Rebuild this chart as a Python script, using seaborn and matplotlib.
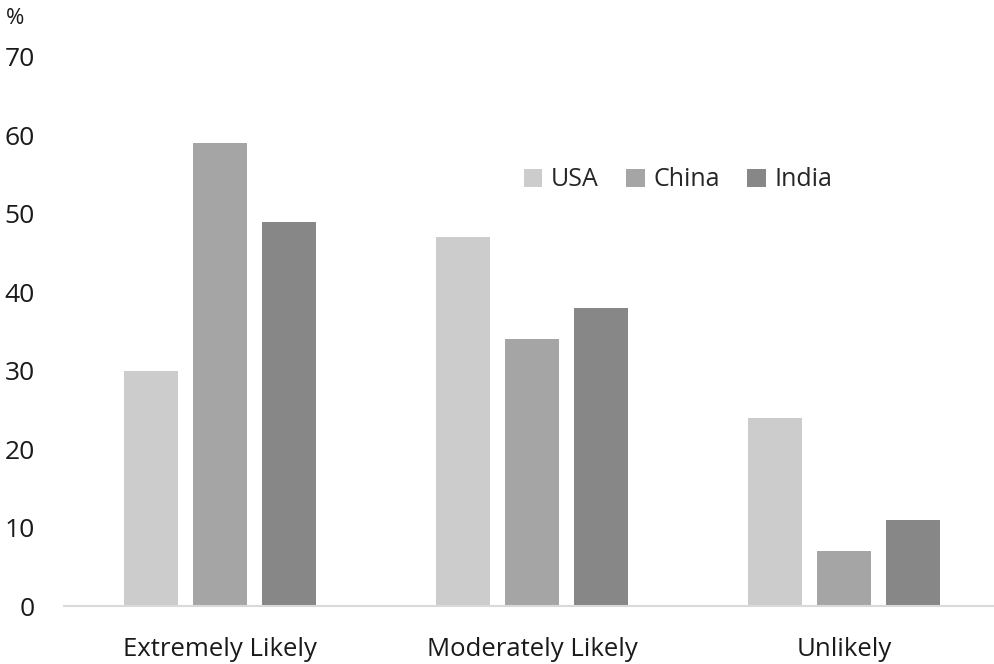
import pandas as pd
import matplotlib.pyplot as plt
import seaborn as sns

categories = ["Extremely Likely", "Moderately Likely", "Unlikely"]
countries = ["USA", "China", "India"]
usa = [30, 47, 24]
china = [59, 34, 7]
india = [49, 38, 11]
yticks = [0, 10, 20, 30, 40, 50, 60, 70]

df = pd.DataFrame({
    "Category": categories * 3,
    "Country": ["USA"] * 3 + ["China"] * 3 + ["India"] * 3,
    "Value": usa + china + india,
})

sns.set_style("white")
plt.rcParams["font.family"] = ["Open Sans", "DejaVu Sans"]

fig = plt.figure(figsize=(9.94, 6.64), dpi=100)
ax = fig.add_axes([64 / 994, 1 - 606 / 664, 936 / 994, 549 / 664])

palette = {"USA": "#CCCCCC", "China": "#A5A5A5", "India": "#878787"}
sns.barplot(data=df, x="Category", y="Value", hue="Country", hue_order=countries,
            order=categories, palette=palette, width=0.663, gap=0.22,
            saturation=1, linewidth=0, ax=ax)

ax.set_xlim(-0.5, 2.5)
ax.set_ylim(0, 70)
ax.set_yticks(yticks)
ax.set_xlabel("")
ax.set_ylabel("")
ax.tick_params(axis="both", length=0, colors="#1a1a1a")
ax.tick_params(axis="x", pad=22, labelsize=18.5)
ax.tick_params(axis="y", pad=21, labelsize=19)
for s in ["top", "right", "left"]:
    ax.spines[s].set_visible(False)
ax.spines["bottom"].set_color("#D9D9D9")
ax.spines["bottom"].set_linewidth(1.5)

fig.text(6 / 994, 1 - 19 / 664, "%", fontsize=16, va="center", ha="left", color="#1a1a1a")

leg = ax.legend(ncol=3, frameon=False, fontsize=18, handlelength=0.75, handleheight=0.75,
                handletextpad=0.35, columnspacing=1.08, loc="center",
                bbox_to_anchor=((678 - 64) / 936, (606 - 180) / 549))

fig.savefig("out.png", dpi=100)
